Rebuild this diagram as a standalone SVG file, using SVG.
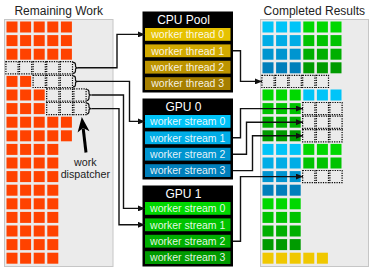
<svg xmlns="http://www.w3.org/2000/svg" xmlns:xlink="http://www.w3.org/1999/xlink" width="373" height="273" viewBox="0 0 373 273">
<style>
text{font-family:"Liberation Sans",Arial,sans-serif}
.bg{fill:#ffffff}
.panel{fill:#ebebeb;stroke:#c6c6c6;stroke-width:1}
.title{font-size:12px;fill:#222;text-anchor:middle}
.o{fill:#ff4200}
.d{fill:none;stroke:#000;stroke-width:1.2;stroke-dasharray:1.2 1.2}
.b0{fill:#00c4f8}.b1{fill:#00ade6}.b2{fill:#0095d0}.b3{fill:#007fbb}
.g0{fill:#00d800}.g1{fill:#00c300}.g2{fill:#00af00}.g3{fill:#009b00}
.y{fill:#f0c800}
.t0{fill:#e6c200}.t1{fill:#d2aa00}.t2{fill:#bd9400}.t3{fill:#a67f00}
.box{fill:#000}
.hdr{font-size:12px;fill:#fff;text-anchor:middle}
.lbl{font-size:10.5px;fill:#fff;fill-opacity:0.9;text-anchor:middle}
.conn path{fill:none;stroke:#111;stroke-width:1.4;marker-end:url(#ah)}
.brace{fill:none;stroke:#111;stroke-width:1.2}
.note{font-size:10.7px;fill:#222;text-anchor:middle}
</style>
<defs>
<rect id="c" width="11" height="11"/>
<rect id="dc" x="-0.6" y="-0.6" width="12.2" height="12.2"/>
<marker id="ah" viewBox="0 0 7 6" refX="7" refY="3" markerWidth="7" markerHeight="6" markerUnits="userSpaceOnUse" orient="auto">
<path d="M0,0 L7,3 L0,6 z" fill="#111"/>
</marker>
</defs>
<rect class="bg" x="0" y="0" width="373" height="273"/>

<g id="remaining-work">
<rect class="panel" x="4.5" y="19.5" width="108.5" height="247"/>
<text class="title" x="58.7" y="15">Remaining Work</text>
<g class="o">
<use xlink:href="#c" x="6.5" y="21.5"/><use xlink:href="#c" x="20.1" y="21.5"/><use xlink:href="#c" x="33.7" y="21.5"/><use xlink:href="#c" x="47.3" y="21.5"/><use xlink:href="#c" x="60.9" y="21.5"/>
<use xlink:href="#c" x="6.5" y="35.1"/><use xlink:href="#c" x="20.1" y="35.1"/><use xlink:href="#c" x="33.7" y="35.1"/><use xlink:href="#c" x="47.3" y="35.1"/><use xlink:href="#c" x="60.9" y="35.1"/>
<use xlink:href="#c" x="6.5" y="48.7"/><use xlink:href="#c" x="20.1" y="48.7"/><use xlink:href="#c" x="33.7" y="48.7"/><use xlink:href="#c" x="47.3" y="48.7"/><use xlink:href="#c" x="60.9" y="48.7"/>
<use xlink:href="#c" x="6.5" y="75.9"/><use xlink:href="#c" x="20.1" y="75.9"/>
<use xlink:href="#c" x="6.5" y="89.5"/><use xlink:href="#c" x="20.1" y="89.5"/><use xlink:href="#c" x="33.7" y="89.5"/>
<use xlink:href="#c" x="6.5" y="103.1"/><use xlink:href="#c" x="20.1" y="103.1"/><use xlink:href="#c" x="33.7" y="103.1"/>
<use xlink:href="#c" x="6.5" y="116.7"/><use xlink:href="#c" x="20.1" y="116.7"/><use xlink:href="#c" x="33.7" y="116.7"/><use xlink:href="#c" x="47.3" y="116.7"/><use xlink:href="#c" x="60.9" y="116.7"/>
<use xlink:href="#c" x="6.5" y="130.3"/><use xlink:href="#c" x="20.1" y="130.3"/><use xlink:href="#c" x="33.7" y="130.3"/><use xlink:href="#c" x="47.3" y="130.3"/><use xlink:href="#c" x="60.9" y="130.3"/>
<use xlink:href="#c" x="6.5" y="143.9"/><use xlink:href="#c" x="20.1" y="143.9"/><use xlink:href="#c" x="33.7" y="143.9"/><use xlink:href="#c" x="47.3" y="143.9"/>
<use xlink:href="#c" x="6.5" y="157.5"/><use xlink:href="#c" x="20.1" y="157.5"/><use xlink:href="#c" x="33.7" y="157.5"/><use xlink:href="#c" x="47.3" y="157.5"/>
<use xlink:href="#c" x="6.5" y="171.1"/><use xlink:href="#c" x="20.1" y="171.1"/><use xlink:href="#c" x="33.7" y="171.1"/><use xlink:href="#c" x="47.3" y="171.1"/>
<use xlink:href="#c" x="6.5" y="184.7"/><use xlink:href="#c" x="20.1" y="184.7"/><use xlink:href="#c" x="33.7" y="184.7"/><use xlink:href="#c" x="47.3" y="184.7"/>
<use xlink:href="#c" x="6.5" y="198.3"/><use xlink:href="#c" x="20.1" y="198.3"/><use xlink:href="#c" x="33.7" y="198.3"/><use xlink:href="#c" x="47.3" y="198.3"/>
<use xlink:href="#c" x="6.5" y="211.9"/><use xlink:href="#c" x="20.1" y="211.9"/><use xlink:href="#c" x="33.7" y="211.9"/><use xlink:href="#c" x="47.3" y="211.9"/>
<use xlink:href="#c" x="6.5" y="225.5"/><use xlink:href="#c" x="20.1" y="225.5"/><use xlink:href="#c" x="33.7" y="225.5"/><use xlink:href="#c" x="47.3" y="225.5"/>
<use xlink:href="#c" x="6.5" y="239.1"/><use xlink:href="#c" x="20.1" y="239.1"/><use xlink:href="#c" x="33.7" y="239.1"/><use xlink:href="#c" x="47.3" y="239.1"/>
<use xlink:href="#c" x="6.5" y="252.7"/><use xlink:href="#c" x="20.1" y="252.7"/><use xlink:href="#c" x="33.7" y="252.7"/><use xlink:href="#c" x="47.3" y="252.7"/>
</g>
<g class="d">
<use xlink:href="#dc" x="6.5" y="62.3"/><use xlink:href="#dc" x="20.1" y="62.3"/><use xlink:href="#dc" x="33.7" y="62.3"/><use xlink:href="#dc" x="47.3" y="62.3"/><use xlink:href="#dc" x="60.9" y="62.3"/>
<use xlink:href="#dc" x="33.7" y="75.9"/><use xlink:href="#dc" x="47.3" y="75.9"/><use xlink:href="#dc" x="60.9" y="75.9"/>
<use xlink:href="#dc" x="47.3" y="89.5"/><use xlink:href="#dc" x="60.9" y="89.5"/><use xlink:href="#dc" x="74.5" y="89.5"/>
<use xlink:href="#dc" x="47.3" y="103.1"/><use xlink:href="#dc" x="60.9" y="103.1"/><use xlink:href="#dc" x="74.5" y="103.1"/>
</g>
<path class="brace" d="M73,62.3 q2.5,0 2.5,2.5 v1.5 q0,1.5 2.5,1.5 q-2.5,0 -2.5,1.5 v1.5 q0,2.5 -2.5,2.5"/>
<path class="brace" d="M73,75.9 q2.5,0 2.5,2.5 v1.5 q0,1.5 2.5,1.5 q-2.5,0 -2.5,1.5 v1.5 q0,2.5 -2.5,2.5"/>
<path class="brace" d="M86.5,89.5 q2.5,0 2.5,2.5 v1.5 q0,1.5 2.5,1.5 q-2.5,0 -2.5,1.5 v1.5 q0,2.5 -2.5,2.5"/>
<path class="brace" d="M86.5,103.1 q2.5,0 2.5,2.5 v1.5 q0,1.5 2.5,1.5 q-2.5,0 -2.5,1.5 v1.5 q0,2.5 -2.5,2.5"/>
</g>

<g id="work-dispatcher">
<line x1="86" y1="152.5" x2="83.2" y2="128.5" stroke="#000" stroke-width="3"/>
<polygon points="81.8,117 89.5,131.2 83.1,127.9 77.6,132.6" fill="#000"/>
<text class="note" x="85.3" y="165.5">work</text>
<text class="note" x="85.3" y="177.8">dispatcher</text>
</g>

<g id="cpu-pool">
<rect class="box" x="142.5" y="11.5" width="90.5" height="81"/>
<text class="hdr" x="183.5" y="23.8">CPU Pool</text>
<rect class="t0" x="145" y="28" width="85.5" height="12.8"/>
<rect class="t1" x="145" y="44.4" width="85.5" height="12.8"/>
<rect class="t2" x="145" y="60.8" width="85.5" height="12.8"/>
<rect class="t3" x="145" y="77.2" width="85.5" height="12.8"/>
<text class="lbl" x="187.7" y="38.2">worker thread 0</text>
<text class="lbl" x="187.7" y="54.6">worker thread 1</text>
<text class="lbl" x="187.7" y="71">worker thread 2</text>
<text class="lbl" x="187.7" y="87.4">worker thread 3</text>
</g>

<g id="gpu-0">
<rect class="box" x="142.5" y="98.5" width="90.5" height="81"/>
<text class="hdr" x="183.5" y="110.8">GPU 0</text>
<rect class="b0" x="145" y="115" width="85.5" height="12.8"/>
<rect class="b1" x="145" y="131.4" width="85.5" height="12.8"/>
<rect class="b2" x="145" y="147.8" width="85.5" height="12.8"/>
<rect class="b3" x="145" y="164.2" width="85.5" height="12.8"/>
<text class="lbl" x="187.7" y="125.2">worker stream 0</text>
<text class="lbl" x="187.7" y="141.6">worker stream 1</text>
<text class="lbl" x="187.7" y="158">worker stream 2</text>
<text class="lbl" x="187.7" y="174.4">worker stream 3</text>
</g>

<g id="gpu-1">
<rect class="box" x="142.5" y="185.5" width="90.5" height="81"/>
<text class="hdr" x="183.5" y="197.8">GPU 1</text>
<rect class="g0" x="145" y="202" width="85.5" height="12.8"/>
<rect class="g1" x="145" y="218.4" width="85.5" height="12.8"/>
<rect class="g2" x="145" y="234.8" width="85.5" height="12.8"/>
<rect class="g3" x="145" y="251.2" width="85.5" height="12.8"/>
<text class="lbl" x="187.7" y="212.2">worker stream 0</text>
<text class="lbl" x="187.7" y="228.6">worker stream 1</text>
<text class="lbl" x="187.7" y="245">worker stream 2</text>
<text class="lbl" x="187.7" y="261.4">worker stream 3</text>
</g>

<g id="completed-results">
<rect class="panel" x="260.5" y="19.5" width="108" height="247"/>
<text class="title" x="314.3" y="15">Completed Results</text>
<g class="b0">
<use xlink:href="#c" x="262.5" y="21.5"/><use xlink:href="#c" x="276.1" y="21.5"/><use xlink:href="#c" x="289.7" y="21.5"/>
<use xlink:href="#c" x="303.3" y="89.5"/><use xlink:href="#c" x="316.9" y="89.5"/><use xlink:href="#c" x="330.5" y="89.5"/>
<use xlink:href="#c" x="262.5" y="143.9"/><use xlink:href="#c" x="276.1" y="143.9"/><use xlink:href="#c" x="289.7" y="143.9"/>
</g>
<g class="b1">
<use xlink:href="#c" x="262.5" y="35.1"/><use xlink:href="#c" x="276.1" y="35.1"/><use xlink:href="#c" x="289.7" y="35.1"/>
<use xlink:href="#c" x="262.5" y="157.5"/><use xlink:href="#c" x="276.1" y="157.5"/><use xlink:href="#c" x="289.7" y="157.5"/>
</g>
<g class="b2">
<use xlink:href="#c" x="262.5" y="48.7"/><use xlink:href="#c" x="276.1" y="48.7"/><use xlink:href="#c" x="289.7" y="48.7"/>
<use xlink:href="#c" x="262.5" y="171.1"/><use xlink:href="#c" x="276.1" y="171.1"/><use xlink:href="#c" x="289.7" y="171.1"/>
</g>
<g class="b3">
<use xlink:href="#c" x="262.5" y="62.3"/><use xlink:href="#c" x="276.1" y="62.3"/><use xlink:href="#c" x="289.7" y="62.3"/>
<use xlink:href="#c" x="262.5" y="184.7"/><use xlink:href="#c" x="276.1" y="184.7"/><use xlink:href="#c" x="289.7" y="184.7"/>
</g>
<g class="g0">
<use xlink:href="#c" x="303.3" y="21.5"/><use xlink:href="#c" x="316.9" y="21.5"/><use xlink:href="#c" x="330.5" y="21.5"/>
<use xlink:href="#c" x="262.5" y="89.5"/><use xlink:href="#c" x="276.1" y="89.5"/><use xlink:href="#c" x="289.7" y="89.5"/>
<use xlink:href="#c" x="303.3" y="143.9"/><use xlink:href="#c" x="316.9" y="143.9"/><use xlink:href="#c" x="330.5" y="143.9"/>
<use xlink:href="#c" x="262.5" y="198.3"/><use xlink:href="#c" x="276.1" y="198.3"/><use xlink:href="#c" x="289.7" y="198.3"/>
</g>
<g class="g1">
<use xlink:href="#c" x="303.3" y="35.1"/><use xlink:href="#c" x="316.9" y="35.1"/><use xlink:href="#c" x="330.5" y="35.1"/>
<use xlink:href="#c" x="262.5" y="103.1"/><use xlink:href="#c" x="276.1" y="103.1"/><use xlink:href="#c" x="289.7" y="103.1"/>
<use xlink:href="#c" x="303.3" y="157.5"/><use xlink:href="#c" x="316.9" y="157.5"/><use xlink:href="#c" x="330.5" y="157.5"/>
<use xlink:href="#c" x="262.5" y="211.9"/><use xlink:href="#c" x="276.1" y="211.9"/><use xlink:href="#c" x="289.7" y="211.9"/>
</g>
<g class="g2">
<use xlink:href="#c" x="303.3" y="48.7"/><use xlink:href="#c" x="316.9" y="48.7"/><use xlink:href="#c" x="330.5" y="48.7"/>
<use xlink:href="#c" x="262.5" y="116.7"/><use xlink:href="#c" x="276.1" y="116.7"/><use xlink:href="#c" x="289.7" y="116.7"/>
<use xlink:href="#c" x="262.5" y="225.5"/><use xlink:href="#c" x="276.1" y="225.5"/><use xlink:href="#c" x="289.7" y="225.5"/>
</g>
<g class="g3">
<use xlink:href="#c" x="303.3" y="62.3"/><use xlink:href="#c" x="316.9" y="62.3"/><use xlink:href="#c" x="330.5" y="62.3"/>
<use xlink:href="#c" x="262.5" y="130.3"/><use xlink:href="#c" x="276.1" y="130.3"/><use xlink:href="#c" x="289.7" y="130.3"/>
<use xlink:href="#c" x="262.5" y="239.1"/><use xlink:href="#c" x="276.1" y="239.1"/><use xlink:href="#c" x="289.7" y="239.1"/>
</g>
<g class="y">
<use xlink:href="#c" x="262.5" y="252.7"/><use xlink:href="#c" x="276.1" y="252.7"/><use xlink:href="#c" x="289.7" y="252.7"/><use xlink:href="#c" x="303.3" y="252.7"/><use xlink:href="#c" x="316.9" y="252.7"/>
</g>
<g class="d">
<use xlink:href="#dc" x="262.5" y="75.9"/><use xlink:href="#dc" x="276.1" y="75.9"/><use xlink:href="#dc" x="289.7" y="75.9"/><use xlink:href="#dc" x="303.3" y="75.9"/><use xlink:href="#dc" x="316.9" y="75.9"/>
<use xlink:href="#dc" x="303.3" y="103.1"/><use xlink:href="#dc" x="316.9" y="103.1"/><use xlink:href="#dc" x="330.5" y="103.1"/>
<use xlink:href="#dc" x="303.3" y="116.7"/><use xlink:href="#dc" x="316.9" y="116.7"/><use xlink:href="#dc" x="330.5" y="116.7"/>
<use xlink:href="#dc" x="303.3" y="130.3"/><use xlink:href="#dc" x="316.9" y="130.3"/><use xlink:href="#dc" x="330.5" y="130.3"/>
<use xlink:href="#dc" x="303.3" y="171.1"/><use xlink:href="#dc" x="316.9" y="171.1"/><use xlink:href="#dc" x="330.5" y="171.1"/>
</g>
</g>

<g id="connectors" class="conn">
<path d="M78,67.8 H117 V34.4 H145"/>
<path d="M78,81.4 H129.5 V121.4 H145"/>
<path d="M91.5,95 H123.5 V208.4 H145"/>
<path d="M91.5,108.6 H119 V224.8 H145"/>
<path d="M233,50.8 H240.5 V81.4 H262"/>
<path d="M233,137.8 H240.5 V108.6 H303"/>
<path d="M233,154.2 H246.5 V122.2 H303"/>
<path d="M233,170.6 H252.5 V135.8 H303"/>
<path d="M233,241.2 H240.5 V176.6 H303"/>
</g>
</svg>
